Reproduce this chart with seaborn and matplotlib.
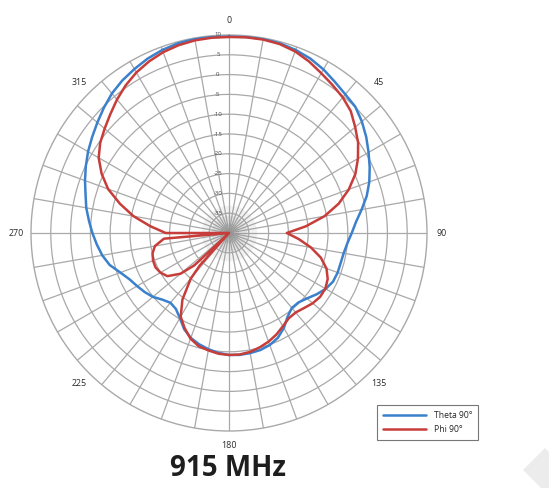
import numpy as np
import matplotlib
matplotlib.use("Agg")
import matplotlib.pyplot as plt
import seaborn as sns
import pandas as pd
from matplotlib.patches import Polygon

# Radiation pattern at 915 MHz, gain in dB versus azimuth in degrees
theta90_angles = [0, 5, 10, 15, 20, 25, 30, 35, 40, 45, 50, 55, 60, 65, 70, 75, 80, 85,
                  90, 95, 100, 105, 110, 115, 120, 125, 130, 135, 140, 145, 150, 155, 160,
                  165, 170, 175, 180, 185, 190, 195, 200, 205, 210, 215, 220, 225, 230,
                  235, 240, 245, 250, 255, 260, 265, 270, 275, 280, 285, 290, 295, 300,
                  305, 310, 315, 320, 325, 330, 335, 340, 345, 350, 355]
theta90_gain = [9.6, 9.7, 9.8, 9.6, 9.2, 8.6, 7.7, 6.6, 5.7, 5.1, 3.8, 2.3, 0.7, -0.8,
                -2.3, -4.0, -6.0, -7.8, -9.0, -10.0, -10.6, -10.8, -10.8, -11.0, -11.8,
                -13.0, -14.3, -15.2, -15.3, -14.2, -12.3, -10.8, -9.9, -9.4, -9.2, -9.1,
                -9.2, -9.6, -10.2, -10.9, -11.8, -13.2, -15.2, -16.6, -17.0, -16.2, -14.9,
                -14.0, -13.2, -12.3, -10.8, -8.8, -7.5, -6.5, -5.5, -4.5, -3.4, -2.5, -1.3,
                -0.1, 1.1, 2.2, 3.4, 4.7, 6.0, 7.0, 7.8, 8.6, 9.2, 9.6, 9.8, 9.7]

phi90_angles = [0, 5, 10, 15, 20, 25, 30, 35, 40, 45, 50, 55, 60, 65, 70, 75, 80, 85,
                90, 95, 100, 105, 110, 115, 120, 125, 130, 135, 140, 145, 150, 155, 160,
                165, 170, 175, 180, 185, 190, 195, 200, 205, 210, 215, 220, 222, 225,
                227, 230, 235, 240, 245, 250, 255, 260, 265, 268, 270, 275, 280, 285,
                290, 295, 300, 305, 310, 315, 320, 325, 330, 335, 340, 345, 350, 355]
phi90_gain = [9.5, 9.6, 9.6, 9.4, 8.8, 7.8, 6.6, 5.6, 4.7, 3.5, 1.6, -0.2, -2.4, -4.8,
              -7.8, -11.3, -15.5, -20.5, -25.4, -22.3, -19.0, -16.0, -13.8, -12.5, -11.9,
              -11.9, -12.4, -13.2, -13.8, -13.7, -12.8, -11.7, -10.8, -10.1, -9.5, -9.2,
              -9.2, -9.4, -9.9, -10.4, -11.6, -13.5, -15.6, -19.5, -25.0, -29.0, -40.0,
              -28.0, -24.0, -21.0, -20.0, -19.5, -19.6, -20.0, -21.0, -23.5, -40.0, -24.0,
              -20.0, -15.5, -11.5, -7.5, -4.5, -2.0, -0.3, 1.0, 2.4, 4.0, 5.5, 6.8, 7.8,
              8.6, 9.1, 9.4, 9.5]

ring_levels = [10, 5, 0, -5, -10, -15, -20, -25, -30, -35]
ring_labels = ["10", "5", "0", "-5", "-10", "-15", "-20", "-25", "-30", "-35"]
angle_ticks = [0, 45, 90, 135, 180, 225, 270, 315]

BLUE = "#3b80cc"
RED = "#c63d3a"
GRID = "#a9a9a9"

sns.set_theme(style="white")
plt.rcParams["font.family"] = ["Open Sans", "DejaVu Sans"]

fig = plt.figure(figsize=(5.49, 4.88), dpi=100)
ax = fig.add_axes([31 / 549, 57 / 488, 396 / 549, 396 / 488], projection="polar")
ax.set_theta_zero_location("N")
ax.set_theta_direction(-1)
ax.set_rlim(-40, 10)

spokes = np.arange(0, 360, 10)
ax.set_thetagrids(spokes, labels=[""] * len(spokes))
rings = np.arange(-35, 10, 5)
ax.set_rgrids(rings, labels=[""] * len(rings))
ax.grid(True, color=GRID, linewidth=0.9)
ax.spines["polar"].set_color(GRID)
ax.spines["polar"].set_linewidth(1.0)
ax.set_facecolor("white")

# dense spoke convergence near the origin
full = np.linspace(0, 2 * np.pi, 361)
for hi, a in [(-33, 0.10), (-35.5, 0.15), (-37.5, 0.2), (-39, 0.25)]:
    ax.fill_between(full, -40, hi, color="#888888", alpha=a, lw=0, zorder=1)

df_theta = pd.DataFrame({
    "angle": np.deg2rad(theta90_angles + [360]),
    "gain": theta90_gain + [theta90_gain[0]],
})
df_phi = pd.DataFrame({
    "angle": np.deg2rad(phi90_angles + [360]),
    "gain": phi90_gain + [phi90_gain[0]],
})

sns.lineplot(data=df_theta, x="angle", y="gain", ax=ax, sort=False, estimator=None,
             color=BLUE, linewidth=1.8, label="Theta 90°", zorder=3)
sns.lineplot(data=df_phi, x="angle", y="gain", ax=ax, sort=False, estimator=None,
             color=RED, linewidth=1.8, label="Phi 90°", zorder=4)
ax.set_xlabel("")
ax.set_ylabel("")
ax.set_rlim(-40, 10)

# angle labels outside the outer ring
for deg in angle_ticks:
    ax.text(np.deg2rad(deg), 13.6, str(deg), ha="center", va="center",
            fontsize=6.4, color="#2a2a2a", clip_on=False)

# level labels along the 0° spoke
for lvl, lab in zip(ring_levels, ring_labels):
    ax.annotate(lab, xy=(0, lvl), xytext=(-8, 0), textcoords="offset points",
                ha="center", va="center", fontsize=4.3, color="#444444", zorder=5)

leg = ax.legend(loc="lower left", bbox_to_anchor=(377 / 549, 48 / 488),
                bbox_transform=fig.transFigure, fontsize=6.2, frameon=True,
                fancybox=False, edgecolor="#555555", handlelength=5.0,
                borderpad=0.7, labelspacing=0.55, handletextpad=0.9,
                borderaxespad=0)
leg.get_frame().set_linewidth(0.8)

fig.text(228 / 549, 19 / 488, "915 MHz", ha="center", va="center",
         fontsize=20, fontweight="bold", color="#1e1e1e")

# faint diamond mark in the corner
fig.patches.append(Polygon([(523 / 549, 18 / 488), (545 / 549, 40 / 488),
                            (567 / 549, 18 / 488), (545 / 549, -4 / 488)],
                           closed=True, transform=fig.transFigure,
                           facecolor="#ececec", edgecolor="none", zorder=0))

fig.savefig("out.png", dpi=100, facecolor="white")
